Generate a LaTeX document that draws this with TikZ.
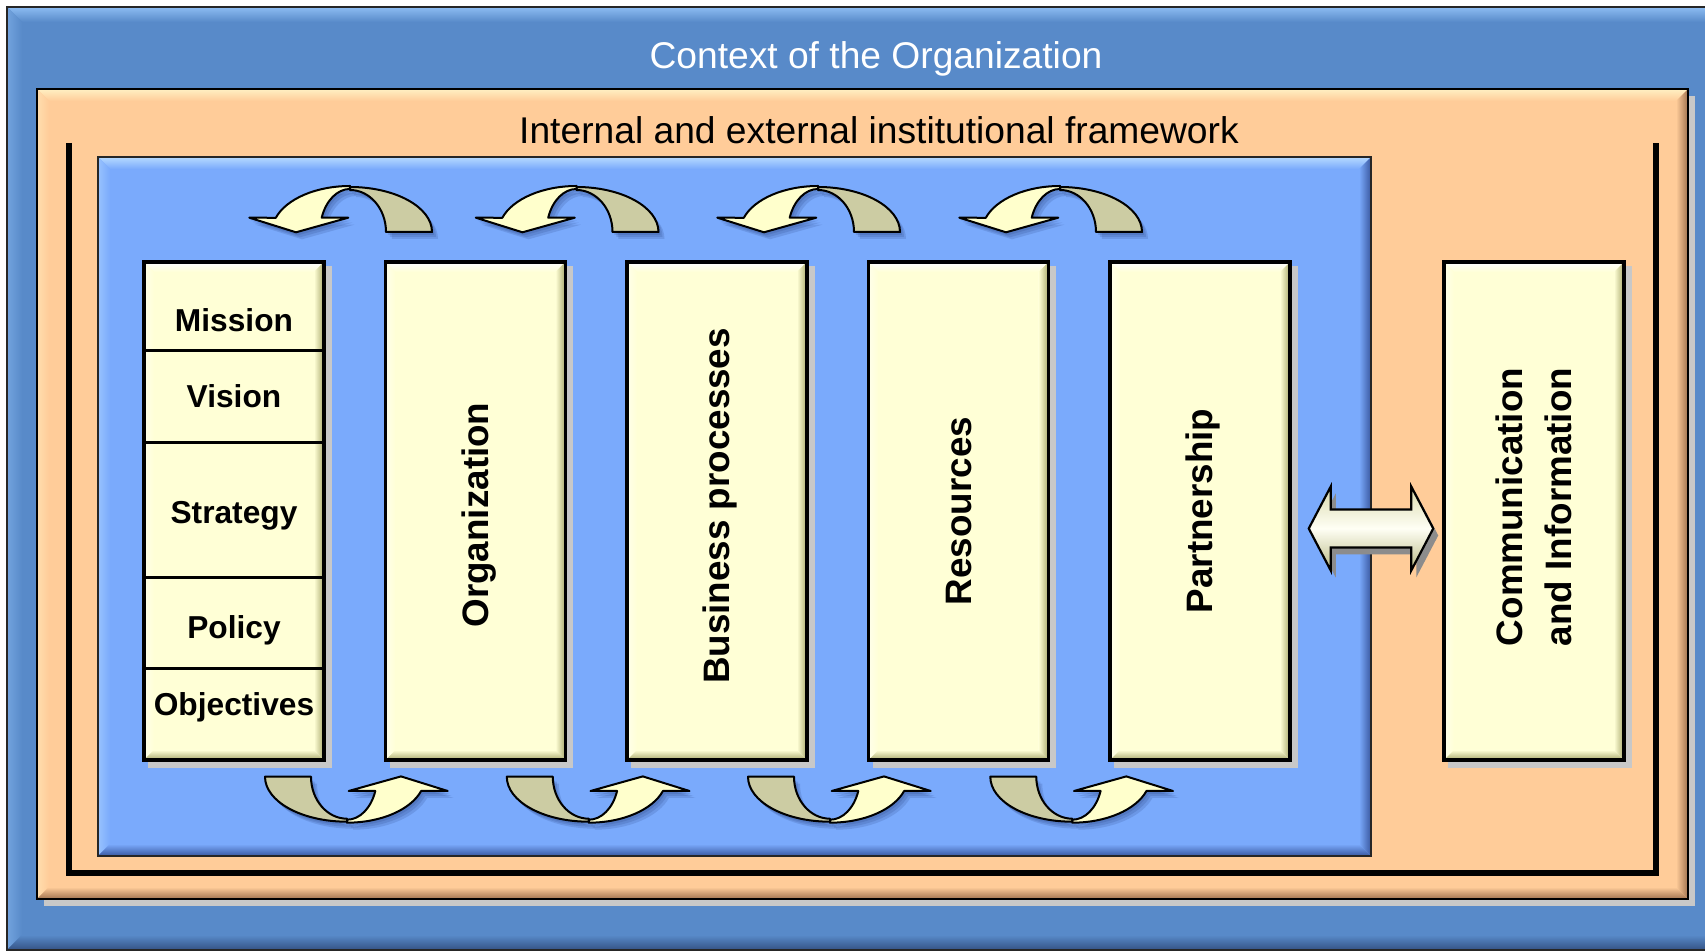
\documentclass[tikz,border=0pt]{standalone}
\usepackage{fontspec}
\setmainfont{Liberation Sans}
\usetikzlibrary{calc}

% palette
\definecolor{outerblue}{RGB}{88,138,201}
\definecolor{outerlight}{RGB}{140,188,242}
\definecolor{outerdark}{RGB}{52,82,132}
\definecolor{peach}{RGB}{255,204,153}
\definecolor{peachlight}{RGB}{255,240,195}
\definecolor{peachdark}{RGB}{160,115,80}
\definecolor{innerblue}{RGB}{122,170,252}
\definecolor{innerlight}{RGB}{182,218,255}
\definecolor{innerdark}{RGB}{58,88,160}
\definecolor{boxbase}{RGB}{255,255,214}
\definecolor{boxdark}{RGB}{168,168,108}
\definecolor{boxshadow}{RGB}{200,200,200}
\definecolor{curlback}{RGB}{204,204,163}
\definecolor{curlfront}{RGB}{255,255,204}
\definecolor{curlshadow}{RGB}{25,45,105}
\definecolor{dblmid}{RGB}{255,255,245}
\definecolor{dbledge}{RGB}{218,218,172}
\definecolor{dbllow}{RGB}{185,185,130}
\definecolor{dblshadow}{RGB}{140,140,140}

\pgfdeclarelayer{frames}
\pgfdeclarelayer{shadows}
\pgfsetlayers{frames,shadows,main}

% curved arrow parts, centred on the ellipse centre (y grows downwards)
\def\curlbackpath{(82,0) arc[start angle=0, end angle=-90, x radius=82, y radius=45]
  -- (0,-42) arc[start angle=-90, end angle=0, x radius=36, y radius=42] -- cycle}
\def\curlfrontpath{(0,-46) arc[start angle=-90, end angle=-162, x radius=78, y radius=46]
  -- (-100.7,-14.3) -- (-54,0.3) -- (-1.7,-14.3) -- (-28.3,-14.3)
  arc[start angle=-160.6, end angle=-90, x radius=30, y radius=43] -- cycle}

\newcommand\ptstrut{\rule[-0.212em]{0pt}{1.117em}}

\tikzset{
  bevel/.style n args={4}{path picture={
    \coordinate (bvA) at (path picture bounding box.north west);
    \coordinate (bvB) at (path picture bounding box.north east);
    \coordinate (bvC) at (path picture bounding box.south east);
    \coordinate (bvD) at (path picture bounding box.south west);
    \shade[top color=#3, bottom color=#2] (bvA) -- (bvB) -- ($(bvB)+(-#1,#1)$) -- ($(bvA)+(#1,#1)$) -- cycle;
    \shade[left color=#3!50!#2, right color=#2] (bvA) -- ($(bvA)+(#1,#1)$) -- ($(bvD)+(#1,-#1)$) -- (bvD) -- cycle;
    \shade[top color=#2, bottom color=#4] (bvD) -- ($(bvD)+(#1,-#1)$) -- ($(bvC)+(-#1,-#1)$) -- (bvC) -- cycle;
    \shade[left color=#2, right color=#4] (bvB) -- (bvC) -- ($(bvC)+(-#1,-#1)$) -- ($(bvB)+(-#1,#1)$) -- cycle;
  }},
  colbox/.style={rectangle, inner sep=0pt, minimum width=90pt, minimum height=249pt,
    fill=boxbase, draw=black, line width=1.75pt, bevel={10}{boxbase}{white}{boxdark}},
  stacktext/.style={font=\fontsize{15.85}{19}\selectfont\bfseries, inner sep=0pt, anchor=base},
  coltext/.style={font=\fontsize{18.4}{24.5}\selectfont\bfseries, inner sep=0pt, rotate=90, align=center},
  titletext/.style={font=\fontsize{18.6}{22}\selectfont, inner sep=0pt},
  divider/.style={line width=1.5pt},
  curlline/.style={draw=black, line width=1pt, line join=round},
  pics/curl/.style={code={
    \foreach \s in {2,4,6}{
      \begin{scope}[shift={(\s,\s+1)}, rotate=#1]
        \fill[curlshadow, opacity=0.15] \curlbackpath;
        \fill[curlshadow, opacity=0.15] \curlfrontpath;
      \end{scope}
    }
    \begin{scope}[rotate=#1]
      \path[curlline, fill=curlback] \curlbackpath;
      \path[curlline, fill=curlfront] \curlfrontpath;
    \end{scope}
  }},
}

\begin{document}
\begin{tikzpicture}[x=0.5pt, y=-0.5pt]
\useasboundingbox (0,0) rectangle (1705,951);

% nested frames
\begin{pgfonlayer}{frames}
  \fill[white] (0,0) rectangle (1705,951);
  \path[fill=outerblue, bevel={15}{outerblue}{outerlight}{outerdark}, draw=black!85, line width=0.9pt]
    (7,7) rectangle (1740,950);
  \node[titletext, text=white] (context) at (876,59) {Context of the Organization};
  \fill[boxshadow] (44,96) rectangle (1695,906);
  \path[fill=peach, bevel={12}{peach}{peachlight}{peachdark}, draw=black, line width=0.9pt]
    (37,89) rectangle (1688,899);
  \node[titletext] (framework) at (879,130) {Internal and external institutional framework};
  \draw[line width=2.75pt, line join=miter] (69,143) -- (69,873) -- (1656,873) -- (1656,143);
  \path[fill=innerblue, bevel={12}{innerblue}{innerlight}{innerdark}, draw=black!85, line width=1pt]
    (98,157) rectangle (1371,856);
\end{pgfonlayer}

% stacked statement column
\node[colbox] (stack) at (234,511) {};
\foreach \d in {90,182,317,408}
  \draw[divider] ($(stack.north west)+(0,\d)$) -- ($(stack.north east)+(0,\d)$);
\node[stacktext] (mission)    at (234,331.5) {Mission};
\node[stacktext] (vision)     at (234,408)   {Vision};
\node[stacktext] (strategy)   at (234,524)   {Strategy};
\node[stacktext] (policy)     at (234,638.5) {Policy};
\node[stacktext] (objectives) at (234,716)   {Objectives};

% vertical columns
\node[colbox] (orgbox)  at (475.5,511) {};
\node[colbox] (busbox)  at (717,511)   {};
\node[colbox] (resbox)  at (958.5,511) {};
\node[colbox] (partbox) at (1200,511)  {};
\node[colbox] (commbox) at (1534,511)  {};

\node[coltext] (org)  at (475.5,515) {\ptstrut Organization};
\node[coltext] (bus)  at (717,506)   {\ptstrut Business processes};
\node[coltext] (res)  at (958.5,511) {\ptstrut Resources};
\node[coltext] (part) at (1200,511)  {\ptstrut Partnership};
\node[coltext] (comm) at (1534,507)  {Communication\\and Information};

\begin{pgfonlayer}{shadows}
  \foreach \b in {stack,orgbox,busbox,resbox,partbox,commbox}
    \fill[boxshadow] ($(\b.north west)+(6,6)$) rectangle ($(\b.south east)+(6,6)$);
\end{pgfonlayer}

% curved arrows above and below the columns
\pic (curlA) at (350,232)   {curl=0};
\pic (curlB) at (576.5,232) {curl=0};
\pic (curlC) at (818,232)   {curl=0};
\pic (curlD) at (1060,232)  {curl=0};
\pic (curlE) at (347,776.7)   {curl=180};
\pic (curlF) at (588.8,776.7) {curl=180};
\pic (curlG) at (830,776.7)   {curl=180};
\pic (curlH) at (1072.3,776.7) {curl=180};

% two-way link between partnership and communication
\coordinate (dal) at ($(partbox.east |- 0,528.5)+(17,0)$);
\coordinate (dar) at ($(commbox.west |- 0,528.5)+(-9,0)$);
\def\dblpath{(dal) -- ($(dal)+(22,-42)$) -- ($(dal)+(22,-19)$) -- ($(dar)+(-22,-19)$)
  -- ($(dar)+(-22,-42)$) -- (dar) -- ($(dar)+(-22,42)$) -- ($(dar)+(-22,19)$)
  -- ($(dal)+(22,19)$) -- ($(dal)+(22,42)$) -- cycle}
\fill[dblshadow, transform canvas={shift={(5,7)}}] \dblpath;
\shade[top color=dbledge, bottom color=dbllow, middle color=dblmid] \dblpath;
\draw[line width=1.1pt, line join=miter] \dblpath;

\end{tikzpicture}
\end{document}
